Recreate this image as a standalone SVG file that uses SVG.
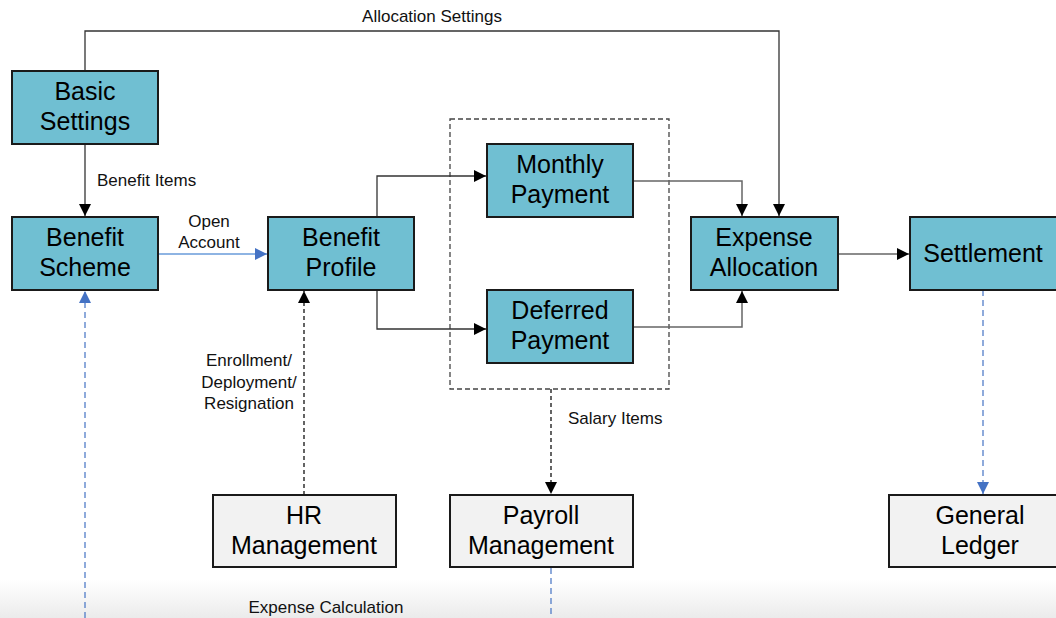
<svg xmlns="http://www.w3.org/2000/svg" width="1056" height="618" viewBox="0 0 1056 618">
<defs>
<linearGradient id="fade" x1="0" y1="0" x2="0" y2="1">
<stop offset="0" stop-color="#ffffff"/>
<stop offset="1" stop-color="#ebebeb"/>
</linearGradient>
<marker id="ab" markerWidth="13" markerHeight="12" refX="12" refY="6" orient="auto" markerUnits="userSpaceOnUse">
<path d="M0,0 L12,6 L0,12 Z" fill="#000"/>
</marker>
<marker id="abl" markerWidth="13" markerHeight="12" refX="12" refY="6" orient="auto" markerUnits="userSpaceOnUse">
<path d="M0,0 L12,6 L0,12 Z" fill="#4472c4"/>
</marker>
<style>
.teal{fill:#70bfd2;stroke:#1a1a1a;stroke-width:2}
.grey{fill:#f2f2f2;stroke:#1a1a1a;stroke-width:2}
.nt{font-family:"Liberation Sans",Arial,sans-serif;font-size:25px;fill:#000;text-anchor:middle}
.lb{font-family:"Liberation Sans",Arial,sans-serif;font-size:17px;fill:#111}
.c{fill:none;stroke:#333;stroke-width:1.3}
.cg{fill:none;stroke:#666;stroke-width:1.5}
.cd{fill:none;stroke:#111;stroke-width:1.3;stroke-dasharray:4,3}
.cb{fill:none;stroke:#4472c4;stroke-width:1.2;stroke-dasharray:6,4}
</style>
</defs>
<rect x="0" y="580" width="1056" height="38" fill="url(#fade)"/>
<rect x="450" y="119" width="219" height="270" fill="none" stroke="#444" stroke-width="1.3" stroke-dasharray="5,3"/>
<g id="connectors">
<path class="c" d="M85,71 V31 H779 V216" marker-end="url(#ab)"/>
<path class="c" d="M85,144 V216" marker-end="url(#ab)"/>
<path d="M158,254 H267" fill="none" stroke="#8eb4e3" stroke-width="2" marker-end="url(#abl)"/>
<path class="c" d="M377,217 V176 H486" marker-end="url(#ab)"/>
<path class="c" d="M377,290 V329 H486" marker-end="url(#ab)"/>
<path class="cg" d="M633,181 H742 V216" marker-end="url(#ab)"/>
<path class="cg" d="M633,327 H742 V291" marker-end="url(#ab)"/>
<path class="cg" d="M838,254 H909" marker-end="url(#ab)"/>
<path class="cd" d="M304,495 V291" marker-end="url(#ab)"/>
<path class="cd" d="M551,389 V494" stroke="#555" marker-end="url(#ab)"/>
<path class="cb" d="M983,290 V494" marker-end="url(#abl)"/>
<path class="cb" d="M85,618 V291" marker-end="url(#abl)"/>
<path class="cb" d="M551,568 V618"/>
</g>
<g id="labels">
<text class="lb" x="432" y="22" text-anchor="middle">Allocation Settings</text>
<text class="lb" x="97" y="186">Benefit Items</text>
<text class="lb" x="209" y="227" text-anchor="middle">Open</text>
<text class="lb" x="209" y="248" text-anchor="middle">Account</text>
<text class="lb" x="249" y="366" text-anchor="middle">Enrollment/</text>
<text class="lb" x="249" y="388" text-anchor="middle">Deployment/</text>
<text class="lb" x="249" y="409" text-anchor="middle">Resignation</text>
<text class="lb" x="568" y="424">Salary Items</text>
<text class="lb" x="326" y="613" text-anchor="middle">Expense Calculation</text>
</g>
<g id="basic-settings"><rect class="teal" x="12" y="71" width="146" height="73"/><text class="nt" x="85" y="100">Basic</text><text class="nt" x="85" y="130">Settings</text></g>
<g id="benefit-scheme"><rect class="teal" x="12" y="217" width="146" height="73"/><text class="nt" x="85" y="246">Benefit</text><text class="nt" x="85" y="276">Scheme</text></g>
<g id="benefit-profile"><rect class="teal" x="268" y="217" width="146" height="73"/><text class="nt" x="341" y="246">Benefit</text><text class="nt" x="341" y="276">Profile</text></g>
<g id="monthly-payment"><rect class="teal" x="487" y="144" width="146" height="73"/><text class="nt" x="560" y="173">Monthly</text><text class="nt" x="560" y="203">Payment</text></g>
<g id="deferred-payment"><rect class="teal" x="487" y="290" width="146" height="73"/><text class="nt" x="560" y="319">Deferred</text><text class="nt" x="560" y="349">Payment</text></g>
<g id="expense-allocation"><rect class="teal" x="691" y="217" width="147" height="73"/><text class="nt" x="764" y="246">Expense</text><text class="nt" x="764" y="276">Allocation</text></g>
<g id="settlement"><rect class="teal" x="910" y="217" width="147" height="73"/><text class="nt" x="983" y="262">Settlement</text></g>
<g id="hr-management"><rect class="grey" x="213" y="495" width="183" height="72"/><text class="nt" x="304" y="524">HR</text><text class="nt" x="304" y="554">Management</text></g>
<g id="payroll-management"><rect class="grey" x="450" y="495" width="183" height="72"/><text class="nt" x="541" y="524">Payroll</text><text class="nt" x="541" y="554">Management</text></g>
<g id="general-ledger"><rect class="grey" x="889" y="495" width="168" height="72"/><text class="nt" x="980" y="524">General</text><text class="nt" x="980" y="554">Ledger</text></g>
</svg>
